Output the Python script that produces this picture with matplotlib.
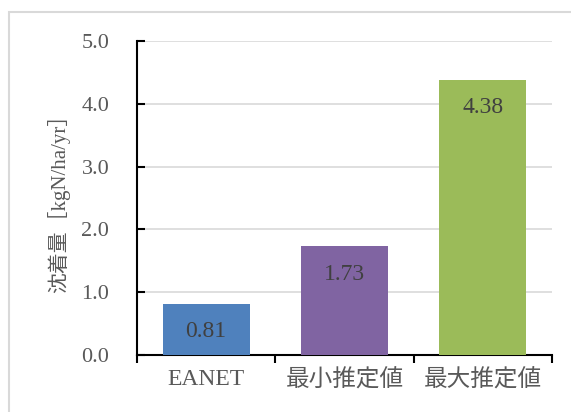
import matplotlib
matplotlib.use("Agg")
import matplotlib.pyplot as plt
from matplotlib.patches import Rectangle

categories = ["EANET", "最小推定値", "最大推定値"]
values = [0.81, 1.73, 4.38]
bar_colors = ["#4F81BD", "#8064A2", "#9BBB59"]
yticks = [0.0, 1.0, 2.0, 3.0, 4.0, 5.0]
ylabel = "沈着量［kgN/ha/yr］"

fonts = ["Liberation Serif", "Noto Sans CJK JP", "DejaVu Sans"]
plt.rcParams["font.family"] = fonts

fig = plt.figure(figsize=(5.71, 4.12), dpi=100)
ax = fig.add_axes([137 / 571, 57 / 412, 415 / 571, 314 / 412])

# light chart frame (right and bottom edges lie outside the picture)
fig.patches.append(Rectangle((9 / 571, -0.05), 2.0, 0.05 + 400 / 412,
                             transform=fig.transFigure, fill=False,
                             edgecolor="#d9d9d9", linewidth=1.5))

xpos = list(range(len(categories)))
ax.bar(xpos, values, width=0.63, color=bar_colors, zorder=3)

for x, v in zip(xpos, values):
    ax.annotate(f"{v:.2f}", (x, v), xytext=(0, -20), textcoords="offset points",
                ha="center", va="center", fontsize=17, color="#404040", zorder=4)

ax.set_xlim(-0.5, 2.5)
ax.set_ylim(0, 5.0)
ax.set_yticks(yticks)
ax.set_yticklabels([f"{t:.1f}" for t in yticks])
ax.set_xticks(xpos)
ax.set_xticklabels(categories)
ax.set_xticks([-0.5, 0.5, 1.5, 2.5], minor=True)

ax.tick_params(axis="y", direction="in", length=6, width=1.5, pad=20,
               labelsize=16, labelcolor="#595959", color="black")
ax.tick_params(axis="x", which="major", length=0, pad=10,
               labelsize=17, labelcolor="#595959")
ax.tick_params(axis="x", which="minor", direction="out", length=6, width=1.5,
               color="black")

ax.yaxis.grid(True, color="#d9d9d9", linewidth=1.2, zorder=0)
ax.set_axisbelow(True)

for side in ["top", "right"]:
    ax.spines[side].set_visible(False)
for side in ["left", "bottom"]:
    ax.spines[side].set_linewidth(1.5)
    ax.spines[side].set_color("black")

ax.set_ylabel(ylabel, fontsize=15, color="#595959", labelpad=8)

fig.savefig("out.png", dpi=100)
